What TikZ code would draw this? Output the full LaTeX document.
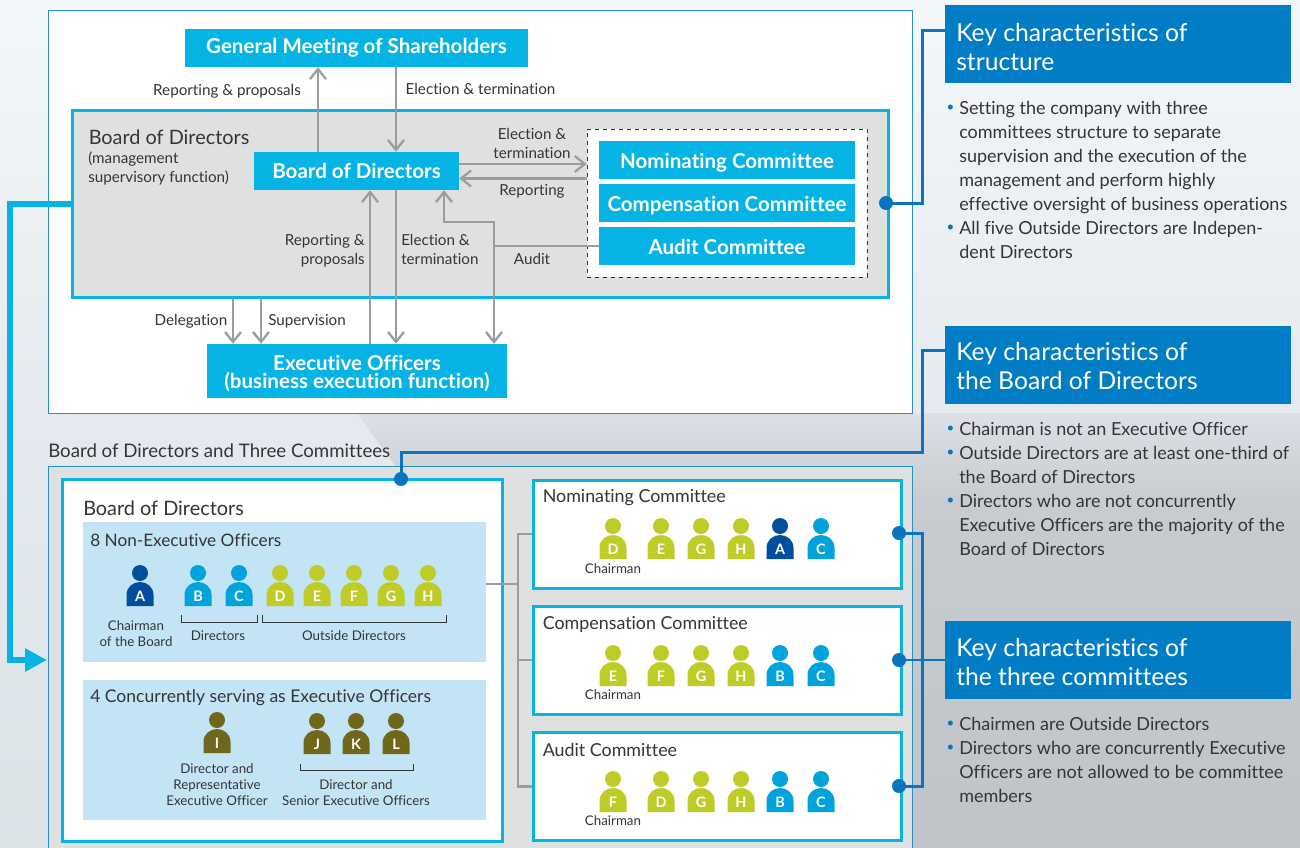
\documentclass[tikz,border=0pt]{standalone}
\usepackage{fontspec}
\setmainfont[Ligatures=NoCommon]{Lato}
\usetikzlibrary{arrows.meta,calc}

\definecolor{cyanfill}{HTML}{05B4E4}
\definecolor{hdrblue}{HTML}{007DC5}
\definecolor{linkblue}{HTML}{0A74C1}
\definecolor{thinblue}{HTML}{2A8FC8}
\definecolor{greyline}{HTML}{9A9C9E}
\definecolor{panel}{HTML}{DFE1E1}
\definecolor{lightpanel}{HTML}{C3E4F4}
\definecolor{navy}{HTML}{004F9F}
\definecolor{sky}{HTML}{00A3DC}
\definecolor{lime}{HTML}{BFCC27}
\definecolor{olive}{HTML}{6F671A}
\definecolor{inkgrey}{HTML}{353537}
\definecolor{bgtop}{HTML}{F3F7F9}
\definecolor{bgmid}{HTML}{E4EAEF}
\definecolor{bglow}{HTML}{DCE3E7}
\definecolor{smokeup}{HTML}{DDE1E7}
\definecolor{smokemid}{HTML}{C7CCD0}
\definecolor{smokelow}{HTML}{BEC4C8}

\newlength{\unitpx}
\setlength{\unitpx}{.75pt}

% one person: bottom centre x, y, colour, letter, name prefix
\newcommand{\officer}[5]{
    \node[headdot, fill=#3] (#5#4h) at (#1,#2-33) {};
    \fill[#3] (#1-13.5,#2) -- (#1-13.5,#2-11) .. controls (#1-13.5,#2-19) and (#1-7,#2-24) .. (#1,#2-24)
        .. controls (#1+7,#2-24) and (#1+13.5,#2-19) .. (#1+13.5,#2-11) -- (#1+13.5,#2) -- cycle;
    \node[letter] (#5#4) at (#1,#2-10) {#4};
}

\begin{document}
\begin{tikzpicture}[x=.75pt,y=-.75pt]
        \tikzstyle{plain}=[inner sep=0pt, text=inkgrey, font=\fontsize{11.4}{14.25}\selectfont]
        \tikzstyle{boxnode}=[fill=cyanfill, inner sep=0pt, text=white, align=center, font=\bfseries\fontsize{15.4}{13.5}\selectfont]
        \tikzstyle{boxline}=[boxnode, text height=13.5pt, text depth=.5pt]
        \tikzstyle{frame}=[draw=cyanfill, line width=2.25pt, fill=white, inner sep=0pt]
        \tikzstyle{lightbox}=[fill=lightpanel, inner sep=0pt]
        \tikzstyle{arr}=[draw=greyline, line width=1.7pt, -{Straight Barb[length=7.5pt,width=12pt]}]
        \tikzstyle{link}=[draw=linkblue, line width=2.25pt]
        \tikzstyle{blob}=[circle, fill=linkblue, inner sep=0pt, minimum width=14\unitpx]
        \tikzstyle{header}=[fill=hdrblue, inner sep=0pt, minimum width=346\unitpx, minimum height=78\unitpx]
        \tikzstyle{headtext}=[inner sep=0pt, text=white, align=left, anchor=west, font=\fontsize{18.5}{21.75}\selectfont]
        \tikzstyle{bodytext}=[inner sep=0pt, text=inkgrey, align=left, anchor=north west, font=\fontsize{13.5}{18}\selectfont]
        \tikzstyle{bul}=[inner sep=0pt, text=linkblue, font=\fontsize{10}{10}\selectfont]
        \tikzstyle{headdot}=[circle, inner sep=0pt, minimum width=16\unitpx]
        \tikzstyle{letter}=[inner sep=0pt, text=white, font=\bfseries\fontsize{10.8}{10.8}\selectfont]
        \tikzstyle{small}=[inner sep=0pt, text=inkgrey, align=center, font=\fontsize{10}{12}\selectfont]
        \tikzstyle{boxtitle}=[inner sep=0pt, text=inkgrey, anchor=west, font=\fontsize{13.4}{16}\selectfont]

        \useasboundingbox (0,0) rectangle (1300,847);

        % background
        \shade[top color=bgtop, bottom color=bgmid] (0,0) rectangle (1300,414);
        \shade[top color=bgmid, bottom color=bglow] (0,413) rectangle (1300,847);
        \shade[top color=smokeup, bottom color=smokemid] (357,413) -- (1300,413) -- (1300,500) -- (420,500) -- cycle;
        \shade[top color=smokemid, bottom color=smokelow] (420,499) rectangle (1300,847);

        % upper panel
        \draw[thinblue, line width=.75pt, fill=white] (48,10) rectangle (912,413);
        \node[frame, fill=panel, minimum width=816\unitpx, minimum height=187\unitpx] (board) at (480,203.5) {};
        \node[draw=black!80, dashed, fill=white, inner sep=0pt, line width=.6pt, minimum width=280\unitpx, minimum height=148\unitpx] (dash) at (727,203) {};

        \node[boxline, text height=10pt, text depth=1.5pt, minimum width=343\unitpx, minimum height=38\unitpx] (gm) at (356.5,48) {General Meeting of Shareholders};
        \node[boxline, text height=12.5pt, text depth=1pt, minimum width=205\unitpx, minimum height=38\unitpx] (bod) at (356.5,171) {Board of Directors};
        \node[boxline, minimum width=256\unitpx, minimum height=38\unitpx] (nom) at (727,160) {Nominating Committee};
        \node[boxline, minimum width=256\unitpx, minimum height=38\unitpx] (comp) at (727,203) {Compensation Committee};
        \node[boxline, minimum width=256\unitpx, minimum height=38\unitpx] (aud) at (727,246) {Audit Committee};
        \node[boxnode, minimum width=300\unitpx, minimum height=54\unitpx] (exec) at (357,371) {};
        \node[boxnode, fill=none] (exect) at (357,374) {Executive Officers\\(business execution function)};

        \coordinate (ua) at (318,0);
        \coordinate (da) at (396,0);
        \coordinate (ub) at (370,0);
        \coordinate (ue) at (233,0);
        \coordinate (uf) at (261,0);
        \coordinate (ra) at (0,164);
        \coordinate (rb) at (0,178.5);
        \coordinate (ac) at (494,246);
        \coordinate (ad) at (494,222);
        \coordinate (ae) at (444,222);

        \draw[arr] (bod.north -| ua) -- (gm.south -| ua);
        \draw[arr] (gm.south -| da) -- (bod.north -| da);
        \draw[arr] (exec.north -| ub) -- (bod.south -| ub);
        \draw[arr] (bod.south -| da) -- (exec.north -| da);
        \draw[arr] (bod.east |- ra) -- (dash.west |- ra);
        \draw[arr] (dash.west |- rb) -- (bod.east |- rb);
        \draw[arr] (board.south -| ue) -- (exec.north -| ue);
        \draw[arr] (board.south -| uf) -- (exec.north -| uf);
        \draw[arr] (aud.west |- ac) -- (ac) -- (ad) -- (ae) -- (bod.south -| ae);
        \draw[arr] (ac) -- (exec.north -| ac);

        \node[plain] (la) at (227,91) {Reporting \& proposals};
        \node[plain] (lb) at (480.5,89) {Election \& termination};
        \node[plain, anchor=west, font=\fontsize{14.9}{16}\selectfont] (lc) at (88.5,137) {Board of Directors};
        \node[plain, anchor=north west, align=left] (ld) at (88,151.5) {(management\\supervisory function)};
        \node[plain, align=center] (le) at (532,143.5) {Election \&\\termination};
        \node[plain] (lf) at (532,191.5) {Reporting};
        \node[plain, align=right, anchor=east] (lg) at (365,251) {Reporting \&\\proposals};
        \node[plain, align=left, anchor=west] (lh) at (401,249.5) {Election \&\\termination};
        \node[plain] (li) at (532,259) {Audit};
        \node[plain] (lj) at (191,321.5) {Delegation};
        \node[plain] (lk) at (307,321.5) {Supervision};

        % thick feed to the lower panel
        \coordinate (fa) at (10,660);
        \coordinate (fb) at (47,660);
        \draw[cyanfill, line width=4.5pt, -{Triangle[length=16.5pt,width=16.5pt]}] (board.west) -| (fa) -- (fb);

        % lower panel
        \node[plain, anchor=west, font=\fontsize{14}{16}\selectfont] (lowtitle) at (48,451) {Board of Directors and Three Committees};
        \draw[thinblue, line width=.75pt, fill=panel] (48,466) rectangle (912,880);

        \node[frame, minimum width=440\unitpx, minimum height=362\unitpx] (main) at (282,660) {};
        \node[lightbox, minimum width=403\unitpx, minimum height=140\unitpx] (nonexec) at (284.5,592) {};
        \node[lightbox, minimum width=403\unitpx, minimum height=140\unitpx] (conc) at (284.5,750) {};
        \node[boxtitle, font=\fontsize{14.9}{16}\selectfont] (maint) at (83,508) {Board of Directors};
        \node[boxtitle, font=\fontsize{12.9}{16}\selectfont] (nont) at (90,540) {8 Non-Executive Officers};
        \node[boxtitle, font=\fontsize{13.15}{16}\selectfont] (cont) at (90,698) {4 Concurrently serving as Executive Officers};

        \node[frame, minimum width=368\unitpx, minimum height=108\unitpx] (cnom) at (717,534) {};
        \node[frame, minimum width=368\unitpx, minimum height=108\unitpx] (ccomp) at (717,660) {};
        \node[frame, minimum width=368\unitpx, minimum height=108\unitpx] (caud) at (717,786.5) {};
        \node[boxtitle] (cnomt) at (542.5,498) {Nominating Committee};
        \node[boxtitle] (ccompt) at (542.5,625) {Compensation Committee};
        \node[boxtitle] (caudt) at (542.5,750) {Audit Committee};

        % people
        \foreach \px/\pc/\pl in {140/navy/A,198/sky/B,239/sky/C,280/lime/D,317/lime/E,354/lime/F,391/lime/G,428/lime/H}
            {\officer{\px}{606}{\pc}{\pl}{n}}
        \officer{217}{753}{olive}{I}{s}
        \foreach \px/\pl in {317/J,356/K,396/L}
            {\officer{\px}{754}{olive}{\pl}{s}}
        \foreach \px/\pc/\pl in {613/lime/D,661/lime/E,701/lime/G,741/lime/H,780/navy/A,821/sky/C}
            {\officer{\px}{559}{\pc}{\pl}{p}}
        \foreach \px/\pc/\pl in {613/lime/E,661/lime/F,701/lime/G,741/lime/H,780/sky/B,821/sky/C}
            {\officer{\px}{686}{\pc}{\pl}{q}}
        \foreach \px/\pc/\pl in {613/lime/F,661/lime/D,701/lime/G,741/lime/H,780/sky/B,821/sky/C}
            {\officer{\px}{812}{\pc}{\pl}{r}}

        % brackets
        \draw[inkgrey, line width=.6pt] (181,615) |- (257,622) -- (257,615);
        \draw[inkgrey, line width=.6pt] (262,615) |- (446,622) -- (446,615);
        \draw[inkgrey, line width=.6pt] (300,764) |- (413,770) -- (413,764);

        \node[small] (sa) at (136,633.5) {Chairman\\of the Board};
        \node[small] (sb) at (218,635.5) {Directors};
        \node[small] (sc) at (354,635.5) {Outside Directors};
        \node[small] (sd) at (217,785) {Director and\\Representative\\Executive Officer};
        \node[small] (se) at (356,793) {Director and\\Senior Executive Officers};
        \node[small] (sf) at (613,568.5) {Chairman};
        \node[small] (sg) at (613,694.5) {Chairman};
        \node[small] (sh) at (613,820.5) {Chairman};

        % grey tree
        \coordinate (ta) at (518,584);
        \draw[greyline, line width=1.7pt] (nonexec.east |- ta) -- (ta);
        \draw[greyline, line width=1.7pt] (cnom.west) -| (ta) |- (caud.west);
        \draw[greyline, line width=1.7pt] (ta |- ccomp.west) -- (ccomp.west);

        % right column
        \node[header] (ka) at (1118,44) {};
        \node[header] (kb) at (1118,365) {};
        \node[header] (kc) at (1118,660) {};
        \node[headtext] (kat) at (956,47) {Key characteristics of\\structure};
        \node[headtext] (kbt) at (956,366.5) {Key characteristics of\\the Board of Directors};
        \node[headtext] (kct) at (956,662.5) {Key characteristics of\\the three committees};

        \node[bodytext] (ta1) at (959,101) {Setting the company with three\\committees structure to separate\\supervision and the execution of the\\management and perform highly\\effective oversight of business operations};
        \node[bodytext] (ta2) at (959,221) {All five Outside Directors are Indepen-\\dent Directors};
        \node[bodytext] (tb1) at (959,422) {Chairman is not an Executive Officer};
        \node[bodytext] (tb2) at (959,446) {Outside Directors are at least one-third of\\the Board of Directors};
        \node[bodytext] (tb3) at (959,494) {Directors who are not concurrently\\Executive Officers are the majority of the\\Board of Directors};
        \node[bodytext] (tc1) at (959,717) {Chairmen are Outside Directors};
        \node[bodytext] (tc2) at (959,741) {Directors who are concurrently Executive\\Officers are not allowed to be committee\\members};
        \foreach \by in {108,228,429,453,501,724,748}
            \node[bul] (b\by) at (950.5,\by) {•};

        % blue links
        \node[blob] (da1) at (886,203) {};
        \node[blob] (da2) at (401,479) {};
        \node[blob] (da3) at (899,533) {};
        \node[blob] (da4) at (899,660) {};
        \node[blob] (da5) at (899,786) {};
        \coordinate (sa1) at (922,30);
        \coordinate (sa2) at (922,452);
        \coordinate (sa3) at (922,350);
        \draw[link] (da1.center) -| (sa1) -- (sa1 -| ka.west);
        \draw[link] (da2.center) |- (sa2) -- (sa3) -- (sa3 -| kb.west);
        \draw[link] (da3.center) -| (sa2 |- da5) -- (da5.center);
        \draw[link, line width=1.5pt] (da4.center) -- (kc.west);
    \end{tikzpicture}
\end{document}
